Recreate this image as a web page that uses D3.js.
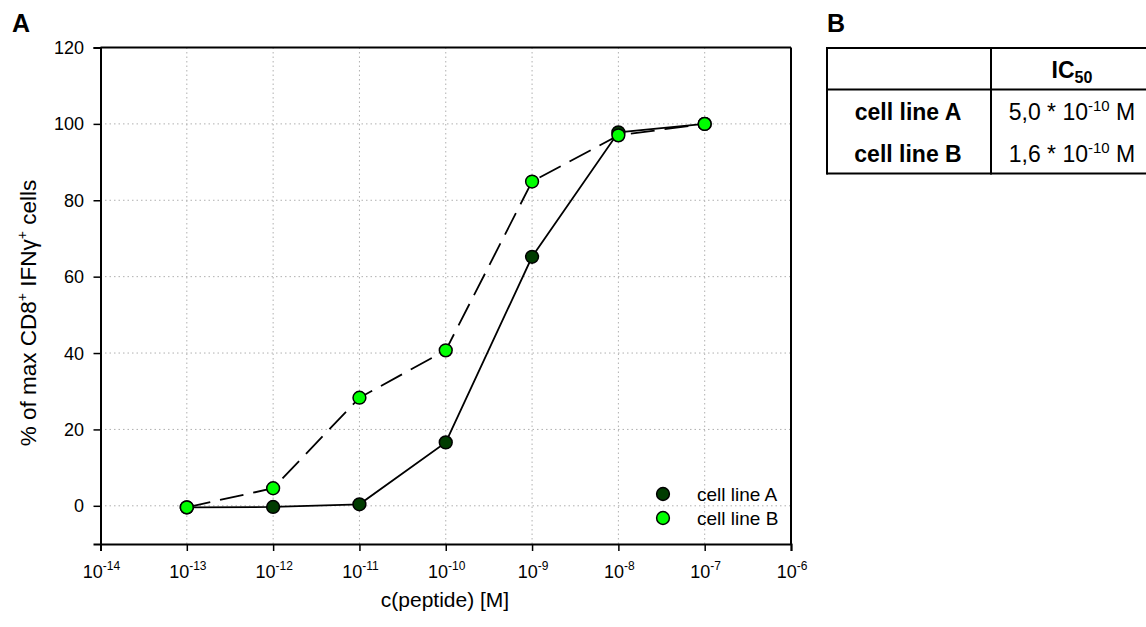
<!DOCTYPE html>
<html>
<head>
<meta charset="utf-8">
<script src="https://cdn.jsdelivr.net/npm/d3@7/dist/d3.min.js"></script>
<style>
  body { margin: 0; background: #fff; }
  svg { display: block; font-family: "Liberation Sans", Arial, sans-serif; }
</style>
</head>
<body>
<svg id="chart" width="1146" height="627"></svg>
<script>
// data
var concentrations = [1e-13, 1e-12, 1e-11, 1e-10, 1e-9, 1e-8, 1e-7];
var cellLineA = [-0.4, -0.3, 0.4, 16.6, 65.2, 97.8, 100];
var cellLineB = [-0.4, 4.6, 28.3, 40.7, 84.9, 97.0, 100];
var seriesNames = ["cell line A", "cell line B"];
var seriesColors = ["#003c00", "#00ff00"];
var yTicks = [0, 20, 40, 60, 80, 100, 120];
var xDecades = [-14, -13, -12, -11, -10, -9, -8, -7, -6];
var tableRows = ["cell line A", "cell line B"];
var ic50Mantissa = ["5,0", "1,6"];
var ic50Exponent = ["-10", "-10"];

var svg = d3.select("#chart");

var x = d3.scaleLog().domain([1e-14, 1e-6]).range([100.5, 791]);
var y = d3.scaleLinear().domain([-10, 120]).range([544, 47.5]);

// grid
var grid = svg.append("g").attr("stroke", "#b0b0b0").attr("stroke-width", 1).attr("stroke-dasharray", "1.5,3");
grid.selectAll(".gx").data(xDecades.slice(1, -1)).enter().append("line")
    .attr("x1", d => x(Math.pow(10, d))).attr("x2", d => x(Math.pow(10, d)))
    .attr("y1", y(120)).attr("y2", y(-10));
grid.selectAll(".gy").data(yTicks.slice(0, -1)).enter().append("line")
    .attr("x1", x(1e-14)).attr("x2", x(1e-6))
    .attr("y1", d => y(d)).attr("y2", d => y(d));

// minor ticks
var minorX = [];
xDecades.slice(0, -1).forEach(function(e) {
    for (var k = 2; k < 10; k++) minorX.push(k * Math.pow(10, e));
});
var minorY = d3.range(-5, 120, 5).filter(d => d % 20 != 0);

var gx = svg.append("g").attr("transform", "translate(0," + y(-10) + ")");
gx.call(d3.axisBottom(x).tickValues(minorX).tickSize(4).tickFormat(""));
gx.call(d3.axisBottom(x).tickValues(xDecades.map(d => Math.pow(10, d))).tickSize(7).tickFormat(""));
gx.selectAll("path.domain").attr("stroke-width", 2);
gx.selectAll("line").attr("stroke-width", 1.5);

var gy = svg.append("g").attr("transform", "translate(" + x(1e-14) + ",0)");
gy.call(d3.axisLeft(y).tickValues(minorY).tickSize(4).tickFormat(""));
gy.call(d3.axisLeft(y).tickValues(yTicks).tickSize(7).tickFormat(""));
gy.selectAll("path.domain").attr("stroke-width", 2);
gy.selectAll("line").attr("stroke-width", 1.5);

// frame top and right
svg.append("line").attr("x1", x(1e-14)).attr("x2", x(1e-6)).attr("y1", y(120)).attr("y2", y(120))
    .attr("stroke", "#000").attr("stroke-width", 2);
svg.append("line").attr("x1", x(1e-6)).attr("x2", x(1e-6)).attr("y1", y(120)).attr("y2", y(-10))
    .attr("stroke", "#000").attr("stroke-width", 2);

// tick labels
svg.selectAll(".ylab").data(yTicks).enter().append("text")
    .attr("x", 84).attr("y", d => y(d) + 6.5)
    .attr("text-anchor", "end").attr("font-size", 18).text(d => d);

var xl = svg.selectAll(".xlab").data(xDecades).enter().append("text")
    .attr("x", d => x(Math.pow(10, d)) + 1).attr("y", 578)
    .attr("text-anchor", "middle").attr("font-size", 18);
xl.append("tspan").text("10");
xl.append("tspan").attr("font-size", 12).attr("dy", -8).text(d => d);

// axis titles
svg.append("text").attr("x", 445).attr("y", 607).attr("text-anchor", "middle")
    .attr("font-size", 21).text("c(peptide) [M]");
var yt = svg.append("text").attr("transform", "translate(36,313) rotate(-90)")
    .attr("text-anchor", "middle").attr("font-size", 22.5);
yt.append("tspan").text("% of max CD8");
yt.append("tspan").attr("font-size", 14).attr("dy", -9).text("+");
yt.append("tspan").attr("dy", 9).text(" IFN\u03b3");
yt.append("tspan").attr("font-size", 14).attr("dy", -9).text("+");
yt.append("tspan").attr("dy", 9).text(" cells");

// lines
var series = [cellLineA, cellLineB];
var line = d3.line().x((d, i) => x(concentrations[i])).y(d => y(d));
svg.selectAll(".series").data(series).enter().append("path")
    .attr("d", d => line(d)).attr("fill", "none").attr("stroke", "#000")
    .attr("stroke-width", 1.8)
    .attr("stroke-dasharray", (d, i) => i == 1 ? "24,10" : null);

series.forEach(function(s, si) {
    svg.selectAll(".pt" + si).data(s).enter().append("circle")
        .attr("cx", (d, i) => x(concentrations[i])).attr("cy", d => y(d))
        .attr("r", 6.4).attr("fill", seriesColors[si])
        .attr("stroke", "#000").attr("stroke-width", 1.5);
});

// legend
var lg = svg.selectAll(".leg").data(seriesNames).enter().append("g")
    .attr("transform", (d, i) => "translate(663," + (494 + i * 24) + ")");
lg.append("circle").attr("r", 6.4).attr("fill", (d, i) => seriesColors[i])
    .attr("stroke", "#000").attr("stroke-width", 1.5);
lg.append("text").attr("x", 34).attr("y", 7).attr("font-size", 19).text(d => d);

// panel letters
svg.append("text").attr("x", 12).attr("y", 32).attr("font-size", 25).attr("font-weight", "bold").text("A");
svg.append("text").attr("x", 827).attr("y", 32).attr("font-size", 25).attr("font-weight", "bold").text("B");

// table B
var tb = svg.append("g").attr("stroke", "#000");
tb.append("line").attr("x1", 826.5).attr("x2", 1146).attr("y1", 48).attr("y2", 48).attr("stroke-width", 2);
tb.append("line").attr("x1", 826.5).attr("x2", 1146).attr("y1", 89.5).attr("y2", 89.5).attr("stroke-width", 2);
tb.append("line").attr("x1", 826.5).attr("x2", 1146).attr("y1", 173.5).attr("y2", 173.5).attr("stroke-width", 2);
tb.append("line").attr("x1", 827).attr("x2", 827).attr("y1", 47).attr("y2", 174.5).attr("stroke-width", 2);
tb.append("line").attr("x1", 991).attr("x2", 991).attr("y1", 47).attr("y2", 174.5).attr("stroke-width", 2);

var ic = svg.append("text").attr("x", 1072).attr("y", 78).attr("text-anchor", "middle")
    .attr("font-size", 23).attr("font-weight", "bold");
ic.append("tspan").text("IC");
ic.append("tspan").attr("font-size", 16).attr("dy", 5).text("50");

svg.selectAll(".rowlab").data(tableRows).enter().append("text")
    .attr("x", 908).attr("y", (d, i) => 120 + i * 42).attr("text-anchor", "middle")
    .attr("font-size", 23).attr("font-weight", "bold").text(d => d);

var vals = svg.selectAll(".rowval").data(ic50Mantissa).enter().append("text")
    .attr("x", 1072).attr("y", (d, i) => 120 + i * 42).attr("text-anchor", "middle")
    .attr("font-size", 23);
vals.append("tspan").text(d => d + " * 10");
vals.append("tspan").attr("font-size", 15).attr("dy", -9).text((d, i) => ic50Exponent[i]);
vals.append("tspan").attr("dy", 9).text(" M");
</script>
</body>
</html>
